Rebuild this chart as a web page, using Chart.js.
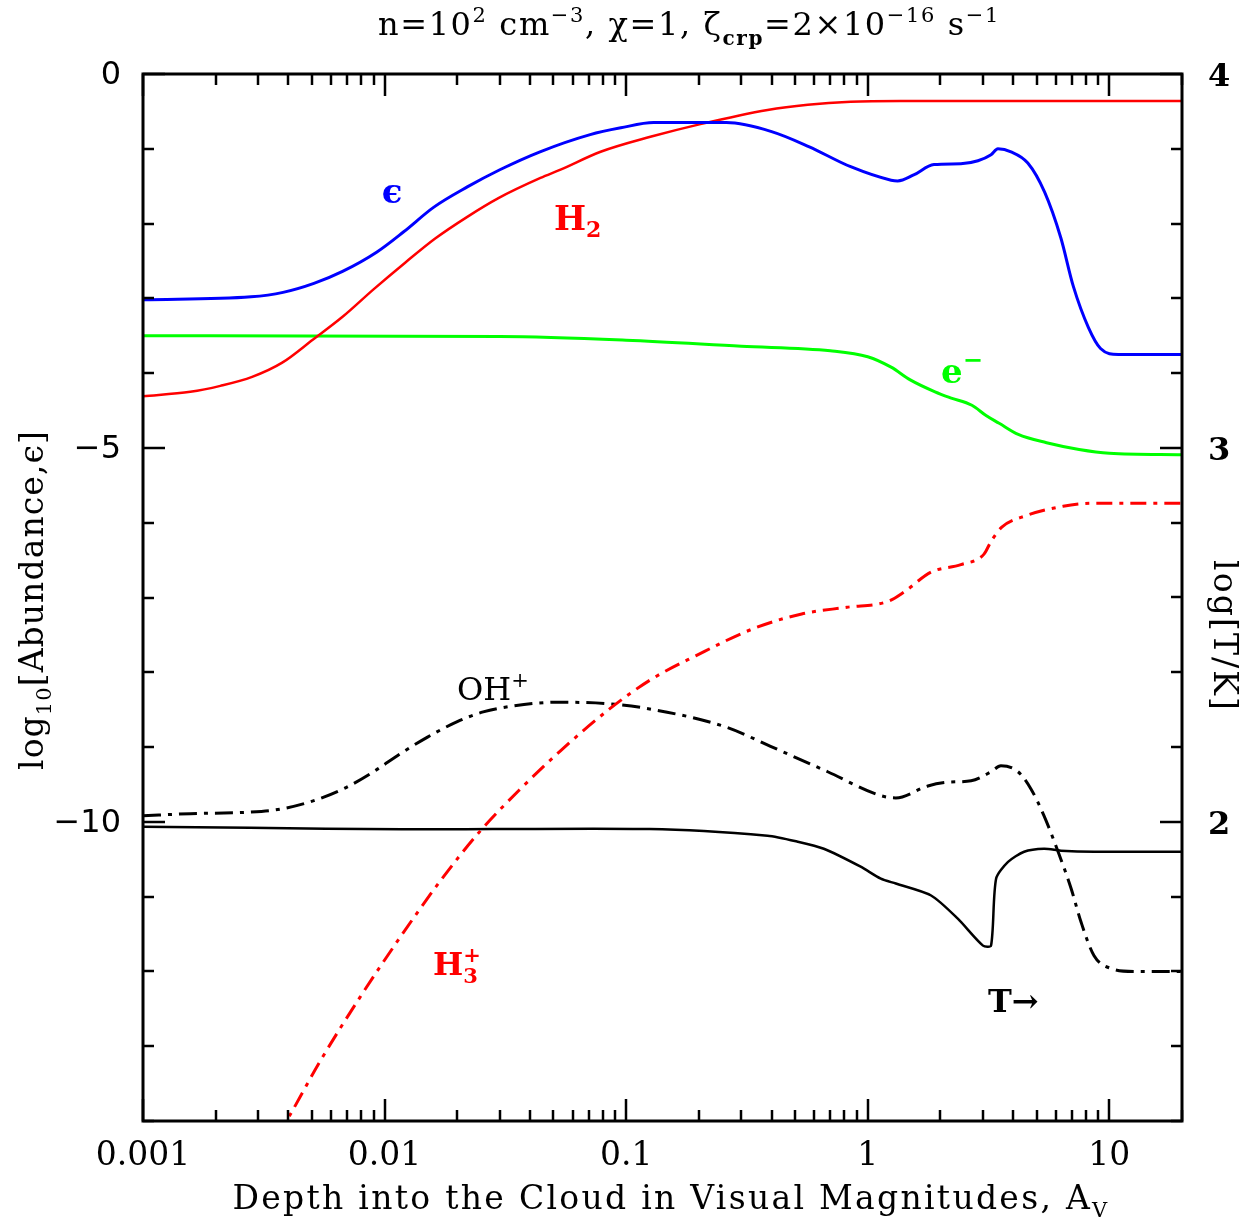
<!DOCTYPE html>
<html><head><meta charset="utf-8">
<script src="https://cdn.jsdelivr.net/npm/chart.js@4/dist/chart.umd.min.js"></script>
<style>html,body{margin:0;padding:0;background:#fff;}canvas{display:block;}</style>
</head><body>
<canvas id="c" width="1256" height="1220"></canvas>
<script>
// ---- data ----
const epsX = [0.001, 0.0028, 0.0038, 0.0051, 0.0067, 0.0093, 0.012, 0.016, 0.022, 0.030, 0.044, 0.071, 0.095, 0.13, 0.26, 0.40, 0.57, 0.85, 1.25, 1.33, 1.55, 1.88, 2.43, 2.86, 3.24, 3.46, 3.92, 4.6, 5.4, 6.3, 7.1, 8.2, 9.2, 10.9, 20];
const epsY = [-3.02, -2.98, -2.92, -2.80, -2.64, -2.38, -2.11, -1.78, -1.51, -1.28, -1.04, -0.81, -0.72, -0.65, -0.65, -0.77, -0.97, -1.24, -1.42, -1.43, -1.35, -1.21, -1.20, -1.16, -1.08, -1.00, -1.04, -1.19, -1.58, -2.19, -2.84, -3.39, -3.67, -3.75, -3.75];

const h2X = [0.001, 0.00157, 0.00209, 0.00283, 0.00377, 0.00506, 0.00674, 0.009, 0.0122, 0.0162, 0.022, 0.0296, 0.0442, 0.0535, 0.0784, 0.126, 0.203, 0.385, 0.565, 0.85, 1.37, 20];
const h2Y = [-4.31, -4.25, -4.17, -4.05, -3.86, -3.55, -3.24, -2.88, -2.52, -2.20, -1.91, -1.66, -1.39, -1.28, -1.04, -0.84, -0.67, -0.48, -0.41, -0.37, -0.36, -0.36];

const elX = [0.001, 0.03, 0.1, 0.3, 0.7, 1.0, 1.25, 1.5, 1.9, 2.2, 2.7, 3.1, 3.5, 4.2, 5.5, 7.5, 10, 20];
const elY = [-3.50, -3.51, -3.56, -3.64, -3.70, -3.78, -3.92, -4.09, -4.25, -4.33, -4.43, -4.57, -4.67, -4.82, -4.93, -5.02, -5.07, -5.09];

const h3X = [0.0036, 0.00396, 0.00541, 0.00793, 0.01162, 0.01701, 0.02493, 0.03651, 0.05348, 0.08616, 0.1262, 0.194, 0.334, 0.533, 0.82, 1.22, 1.41, 1.83, 2.43, 3.03, 3.24, 3.59, 4.48, 6.44, 8.57, 20];
const h3Y = [-14.2, -13.98, -13.20, -12.34, -11.54, -10.79, -10.12, -9.56, -9.05, -8.48, -8.10, -7.78, -7.42, -7.22, -7.13, -7.05, -6.93, -6.66, -6.56, -6.42, -6.25, -6.06, -5.91, -5.78, -5.74, -5.74];

const ohX = [0.001, 0.00157, 0.00277, 0.0037, 0.00506, 0.00674, 0.009, 0.0116, 0.015, 0.020, 0.0256, 0.0341, 0.052, 0.0837, 0.125, 0.258, 0.396, 0.683, 1.133, 1.307, 1.775, 2.15, 2.68, 3.24, 3.56, 4.19, 4.74, 5.37, 6.14, 6.95, 7.64, 8.65, 10.17, 12.7, 20];
const ohY = [-9.92, -9.89, -9.87, -9.83, -9.72, -9.56, -9.33, -9.09, -8.87, -8.66, -8.53, -8.45, -8.40, -8.42, -8.49, -8.73, -8.99, -9.33, -9.65, -9.68, -9.52, -9.47, -9.45, -9.33, -9.25, -9.33, -9.56, -9.92, -10.40, -10.89, -11.34, -11.79, -11.96, -12.00, -12.00];

const tX = [0.001, 0.00277, 0.0118, 0.125, 0.385, 0.513, 0.658, 0.935, 1.133, 1.307, 1.83, 2.36, 3.0, 3.24, 3.40, 3.81, 4.44, 5.37, 6.31, 8.65, 20];
const tY = [1.987, 1.984, 1.980, 1.981, 1.963, 1.947, 1.928, 1.880, 1.848, 1.835, 1.803, 1.741, 1.669, 1.669, 1.848, 1.893, 1.920, 1.928, 1.923, 1.920, 1.920];

const xTickValues = [0.001, 0.01, 0.1, 1, 10];
const xTickLabels = ['0.001', '0.01', '0.1', '1', '10'];
const yLeftTickValues = [0, -5, -10];
const yLeftTickLabels = ['0', '\u22125', '\u221210'];
const yRightTickValues = [4, 3, 2];
const yRightTickLabels = ['4', '3', '2'];

const pts = (xs, ys) => xs.map((x, i) => ({x, y: ys[i]}));

// ---- rich text helper ----
function drawRich(ctx, segs, x, y, opt) {
  const size = opt.size, fam = opt.family || '"DejaVu Serif"';
  ctx.save();
  ctx.translate(x, y);
  if (opt.rotate) ctx.rotate(opt.rotate);
  ctx.fillStyle = opt.color || '#000';
  ctx.textBaseline = 'alphabetic';
  ctx.textAlign = 'left';
  const hasLS = ('letterSpacing' in ctx);
  const fontFor = s => `${(s.bold || opt.bold) ? 'bold ' : ''}${Math.round(size * (s.scale || 1))}px ${fam}`;
  if (hasLS) ctx.letterSpacing = '0px';
  let w = 0, n = 0;
  const widths = segs.map(s => { ctx.font = fontFor(s); const ww = ctx.measureText(s.t).width; if (!s.noAdvance) { w += ww; n += [...s.t].length; } return ww; });
  let ls = 0;
  if (opt.target && hasLS) ls = (opt.target - w) / n;
  const total = w + ls * n;
  let cx = opt.align === 'center' ? -total / 2 : opt.align === 'right' ? -total : 0;
  segs.forEach((s, i) => {
    ctx.font = fontFor(s);
    if (hasLS) ctx.letterSpacing = ls + 'px';
    ctx.fillText(s.t, cx, (s.dy || 0) * size);
    if (!s.noAdvance) cx += widths[i] + ls * [...s.t].length;
  });
  ctx.restore();
}

const sup = (t) => ({t, scale: 0.65, dy: -0.42});
const sub = (t) => ({t, scale: 0.65, dy: 0.25});

const decoPlugin = {
  id: 'deco',
  afterDatasetsDraw(chart) {
    const {ctx, chartArea: a, scales} = chart;
    const xs = scales.x, yl = scales.y, yr = scales.y2;
    ctx.save();
    ctx.strokeStyle = '#000';
    ctx.lineWidth = 2.5;
    const seg = (x1, y1, x2, y2) => { ctx.beginPath(); ctx.moveTo(x1, y1); ctx.lineTo(x2, y2); ctx.stroke(); };
    for (let d = -3; d <= 1; d++) {
      for (let m = 1; m <= 9; m++) {
        const v = m * Math.pow(10, d);
        if (v > 20.0001) break;
        const px = Math.round(xs.getPixelForValue(v));
        const len = m === 1 ? 22 : 11;
        seg(px, a.bottom, px, a.bottom - len);
        seg(px, a.top, px, a.top + len);
      }
    }
    for (let v = -14; v <= 0; v++) {
      const py = Math.round(yl.getPixelForValue(v));
      seg(a.left, py, a.left + (v % 5 === 0 ? 22 : 11), py);
    }
    for (let i = 6; i <= 20; i++) {
      const py = Math.round(yr.getPixelForValue(i / 5));
      seg(a.right, py, a.right - (i % 5 === 0 ? 22 : 11), py);
    }
    ctx.lineWidth = 3;
    ctx.strokeRect(a.left, a.top, a.right - a.left, a.bottom - a.top);
    ctx.restore();

    ctx.save();
    ctx.fillStyle = '#000';
    ctx.textBaseline = 'middle';
    ctx.textAlign = 'center';
    ctx.font = '33px "DejaVu Serif"';
    xTickValues.forEach((v, i) => ctx.fillText(xTickLabels[i], xs.getPixelForValue(v), 1156));
    ctx.textAlign = 'right';
    ctx.font = '32px "DejaVu Sans"';
    yLeftTickValues.forEach((v, i) => ctx.fillText(yLeftTickLabels[i], 121, yl.getPixelForValue(v) + 2));
    ctx.textAlign = 'left';
    ctx.font = 'bold 32px "DejaVu Serif"';
    yRightTickValues.forEach((v, i) => ctx.fillText(yRightTickLabels[i], 1208, yr.getPixelForValue(v) + 4));
    ctx.restore();

    drawRich(ctx, [{t: 'n=10'}, sup('2'), {t: ' cm'}, sup('\u22123'), {t: ', \u03c7=1, \u03b6'}, {t: 'crp', scale: 0.62, dy: 0.3, bold: true}, {t: '=2\u00d710'}, sup('\u221216'), {t: ' s'}, sup('\u22121')],
      689, 35, {size: 32, align: 'center', target: 622});
    drawRich(ctx, [{t: 'Depth into the Cloud in Visual Magnitudes, A'}, sub('V')],
      671, 1209, {size: 33, align: 'center', target: 877});
    drawRich(ctx, [{t: 'log'}, sub('10'), {t: '[Abundance,\u03f5]'}],
      43, 600, {size: 33, align: 'center', target: 340, rotate: -Math.PI / 2});
    drawRich(ctx, [{t: 'log[T/K]'}],
      1214, 636, {size: 33, align: 'center', target: 152, rotate: Math.PI / 2});

    drawRich(ctx, [{t: '\u03f5'}], 392, 203, {size: 34, align: 'center', color: '#0000ff', bold: true});
    drawRich(ctx, [{t: 'H'}, {t: '2', scale: 0.65, dy: 0.22}], 554, 230, {size: 34, color: '#ff0000', bold: true});
    drawRich(ctx, [{t: 'e'}, {t: '\u2212', scale: 0.7, dy: -0.45}], 941, 383, {size: 34, color: '#00ff00', bold: true});
    drawRich(ctx, [{t: 'OH'}, {t: '+', scale: 0.65, dy: -0.42}], 457, 700, {size: 32});
    drawRich(ctx, [{t: 'H'}, {t: '3', scale: 0.65, dy: 0.25, noAdvance: true}, {t: '+', scale: 0.65, dy: -0.42}], 433, 975, {size: 32, color: '#ff0000', bold: true});
    drawRich(ctx, [{t: 'T\u2192'}], 988, 1012, {size: 32, bold: true});
  }
};

const common = {pointRadius: 0, fill: false, cubicInterpolationMode: 'monotone'};
new Chart(document.getElementById('c'), {
  type: 'line',
  data: {
    datasets: [
      {...common, label: 'eps', data: pts(epsX, epsY), borderColor: '#0000ff', borderWidth: 3, yAxisID: 'y'},
      {...common, label: 'H2', data: pts(h2X, h2Y), borderColor: '#ff0000', borderWidth: 2.5, yAxisID: 'y'},
      {...common, label: 'e-', data: pts(elX, elY), borderColor: '#00ff00', borderWidth: 3, yAxisID: 'y'},
      {...common, label: 'H3+', data: pts(h3X, h3Y), borderColor: '#ff0000', borderWidth: 3, borderDash: [16, 7, 4, 7], yAxisID: 'y'},
      {...common, label: 'OH+', data: pts(ohX, ohY), borderColor: '#000000', borderWidth: 3, borderDash: [18, 7, 4, 7], yAxisID: 'y'},
      {...common, label: 'T', data: pts(tX, tY), borderColor: '#000000', borderWidth: 2.5, yAxisID: 'y2', cubicInterpolationMode: 'default', tension: 0.25}
    ]
  },
  options: {
    responsive: false,
    devicePixelRatio: 1,
    animation: false,
    layout: {padding: {left: 143, top: 74, right: 74, bottom: 99}},
    plugins: {legend: {display: false}, tooltip: {enabled: false}, title: {display: false}},
    scales: {
      x: {type: 'logarithmic', min: 0.001, max: 20, display: false},
      y: {type: 'linear', min: -14, max: 0, display: false},
      y2: {type: 'linear', position: 'right', min: 1.2, max: 4, display: false}
    }
  },
  plugins: [decoPlugin]
});
</script>
</body></html>
